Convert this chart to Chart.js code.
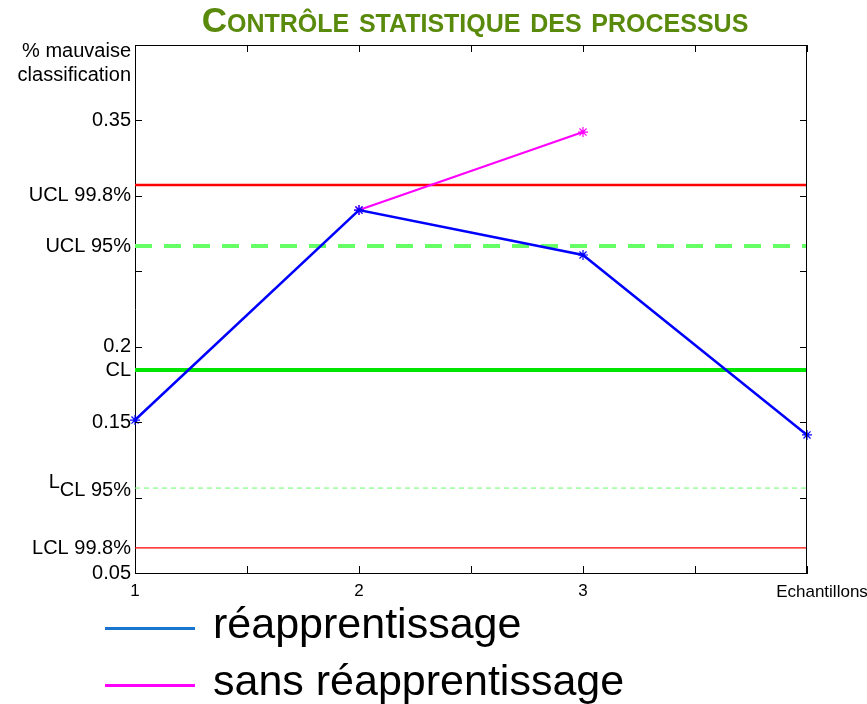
<!DOCTYPE html>
<html lang="fr">
<head>
<meta charset="utf-8">
<title>Contrôle statistique des processus</title>
<script src="https://cdn.jsdelivr.net/npm/chart.js@4"></script>
<style>
  html, body { margin: 0; padding: 0; background: #ffffff; }
  #wrap { position: relative; width: 867px; height: 704px; font-family: "Liberation Sans", Arial, sans-serif; }
  #chart { position: absolute; left: 0; top: 0; }
  #title { position: absolute; left: 0; width: 950px; top: 0px; text-align: center;
           color: #5a8a0c; font-weight: bold; font-size: 35px; font-variant: small-caps; }
  .leg { position: absolute; left: 105px; height: 44px; font-size: 43px; color: #000; white-space: nowrap; }
  .leg .sw { position: absolute; left: 0; top: 22px; width: 90px; height: 3px; }
  .leg .tx { position: absolute; left: 108px; top: -6px; }
</style>
</head>
<body>
<div id="wrap">
  <canvas id="chart" width="867" height="704"></canvas>
  <div id="title">Contrôle statistique des processus</div>
  <div class="leg" style="top:605px"><div class="sw" style="background:#1874cd"></div><div class="tx">réapprentissage</div></div>
  <div class="leg" style="top:662px"><div class="sw" style="background:#ff00ff"></div><div class="tx">sans réapprentissage</div></div>
</div>
<script>
// Samples on the x axis
const samples = [1, 2, 3, 4];
// Misclassification rate with retraining
const withRetraining = [0.1514, 0.2906, 0.2608, 0.1415];
// Misclassification rate without retraining (samples 2 and 3)
const noRetrainingX = [2, 3];
const noRetraining = [0.2906, 0.3423];

// Control limits
const ucl998 = 0.3072;
const ucl95 = 0.2668;
const cl = 0.1846;
const lcl95 = 0.1063;
const lcl998 = 0.0666;

// Axis ticks and labels
const xTickValues = [1, 1.5, 2, 2.5, 3, 3.5, 4];
const xTickLabels = ['1', '', '2', '', '3', '', ''];
const yTickValues = [0.05, 0.1, 0.15, 0.2, 0.25, 0.3, 0.35, 0.4];
const yTickLabels = ['0.05', '', '0.15', '0.2', '', 'UCL 99.8%', '0.35', ''];

const xMin = 1, xMax = 4;
const pts = (xs, ys) => xs.map((x, i) => ({ x: x, y: ys[i] }));
const hline = v => [{ x: xMin, y: v }, { x: xMax, y: v }];

const FONT = '"Liberation Sans", Arial, sans-serif';

// Inner tick marks, top/right frame and the control-limit labels
const framePlugin = {
  id: 'frame',
  afterDraw(chart) {
    const { ctx, chartArea: a, scales } = chart;
    const xs = scales.x, ys = scales.y;
    ctx.save();
    ctx.strokeStyle = '#000';
    ctx.lineWidth = 1;
    ctx.beginPath();
    ctx.moveTo(a.left, a.top + 0.5); ctx.lineTo(a.right, a.top + 0.5);
    ctx.moveTo(a.right - 0.5, a.top); ctx.lineTo(a.right - 0.5, a.bottom);
    xTickValues.forEach(v => {
      const px = Math.round(xs.getPixelForValue(v)) + 0.5;
      ctx.moveTo(px, a.bottom); ctx.lineTo(px, a.bottom - 7);
      ctx.moveTo(px, a.top); ctx.lineTo(px, a.top + 7);
    });
    yTickValues.forEach(v => {
      const py = Math.round(ys.getPixelForValue(v)) + 0.5;
      ctx.moveTo(a.left, py); ctx.lineTo(a.left + 7, py);
      ctx.moveTo(a.right, py); ctx.lineTo(a.right - 7, py);
    });
    ctx.stroke();

    ctx.fillStyle = '#000';
    ctx.textBaseline = 'middle';
    ctx.textAlign = 'right';
    ctx.font = '20px ' + FONT;
    const rx = a.left - 4;
    ctx.fillText('UCL 95%', rx, ys.getPixelForValue(ucl95) + 1);
    ctx.fillText('CL', rx, ys.getPixelForValue(cl) + 1);
    ctx.fillText('LCL 99.8%', rx, ys.getPixelForValue(lcl998) + 1);
    // "LCL 95%" with a raised leading L
    const yL = ys.getPixelForValue(lcl95) + 2;
    ctx.fillText('CL 95%', rx, yL);
    const w = ctx.measureText('CL 95%').width;
    ctx.fillText('L', rx - w, yL - 8);
    // Y axis caption
    ctx.fillText('% mauvaise', rx, 51);
    ctx.fillText('classification', rx, 75);
    // X axis caption at the last sample
    ctx.textAlign = 'center';
    ctx.textBaseline = 'top';
    ctx.font = '17px ' + FONT;
    ctx.fillText('Echantillons', xs.getPixelForValue(xMax) + 15, a.bottom + 11);
    ctx.restore();
  }
};

new Chart(document.getElementById('chart'), {
  type: 'line',
  data: {
    datasets: [
      { label: 'réapprentissage', data: pts(samples, withRetraining), borderColor: '#0000ff',
        backgroundColor: '#0000ff', borderWidth: 2.5, pointStyle: 'star', pointRadius: 5,
        pointBorderWidth: 1.2, pointBorderColor: '#0000ff', clip: false, order: 1 },
      { label: 'sans réapprentissage', data: pts(noRetrainingX, noRetraining), borderColor: '#ff00ff',
        backgroundColor: '#ff00ff', borderWidth: 2, pointStyle: 'star', pointRadius: 5,
        pointBorderWidth: 1.2, pointBorderColor: '#ff00ff', clip: false, order: 2 },
      { label: 'UCL 99.8%', data: hline(ucl998), borderColor: '#ff0000', borderWidth: 2.5, pointRadius: 0, order: 5 },
      { label: 'UCL 95%', data: hline(ucl95), borderColor: '#66ff66', borderWidth: 4, borderDash: [17, 12], pointRadius: 0, order: 5 },
      { label: 'CL', data: hline(cl), borderColor: '#00e600', borderWidth: 4, pointRadius: 0, order: 5 },
      { label: 'LCL 95%', data: hline(lcl95), borderColor: '#66ff66', borderWidth: 1, borderDash: [5, 4], pointRadius: 0, order: 5 },
      { label: 'LCL 99.8%', data: hline(lcl998), borderColor: '#ff0000', borderWidth: 1.2, pointRadius: 0, order: 5 }
    ]
  },
  options: {
    responsive: false,
    animation: false,
    layout: { padding: { top: 45, right: 60, left: 0, bottom: 0 } },
    plugins: { legend: { display: false }, title: { display: false }, tooltip: { enabled: false } },
    scales: {
      x: {
        type: 'linear', min: xMin, max: xMax,
        grid: { display: false, drawTicks: false },
        border: { display: true, color: '#000', width: 1 },
        afterBuildTicks: s => { s.ticks = xTickValues.map(v => ({ value: v })); },
        afterFit: s => { s.height = 131; },
        ticks: {
          autoSkip: false, maxRotation: 0, padding: 8, color: '#000',
          font: { family: FONT, size: 17 },
          callback: (v) => { const i = xTickValues.indexOf(v); return i >= 0 ? xTickLabels[i] : ''; }
        }
      },
      y: {
        type: 'linear', min: 0.05, max: 0.4,
        grid: { display: false, drawTicks: false },
        border: { display: true, color: '#000', width: 1 },
        afterBuildTicks: s => { s.ticks = yTickValues.map(v => ({ value: v })); },
        afterFit: s => { s.width = 135; },
        ticks: {
          autoSkip: false, padding: 4, color: '#000',
          font: { family: FONT, size: 20 },
          callback: (v) => { const i = yTickValues.findIndex(t => Math.abs(t - v) < 1e-9); return i >= 0 ? yTickLabels[i] : ''; }
        }
      }
    }
  },
  plugins: [framePlugin]
});
</script>
</body>
</html>
